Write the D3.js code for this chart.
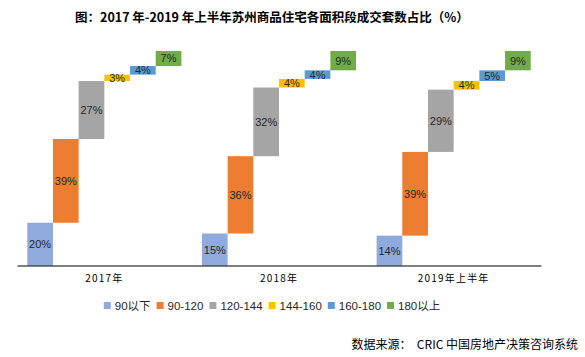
<!DOCTYPE html>
<html><head><meta charset="utf-8">
<script src="https://cdn.jsdelivr.net/npm/d3@7"></script>
<style>html,body{margin:0;padding:0;background:#fff;}svg{display:block;}</style>
</head><body>
<svg id="c" width="585" height="357"></svg>
<script>
const categories = ["2017年", "2018年", "2019年上半年"];
const series = ["90以下", "90-120", "120-144", "144-160", "160-180", "180以上"];
const values2017 = [20, 39, 27, 3, 4, 7];
const values2018 = [15, 36, 32, 4, 4, 9];
const values2019H1 = [14, 39, 29, 4, 5, 9];
const colors = ["#8FAADC", "#ED7D31", "#A5A5A5", "#FFC000", "#5B9BD5", "#70AD47"];
const title = "图：2017 年-2019 年上半年苏州商品住宅各面积段成交套数占比（%）";
const source = "数据来源：  CRIC 中国房地产决策咨询系统";

const allValues = [values2017, values2018, values2019H1];
const svg = d3.select("#c");
const font = "'Liberation Sans', Arial, sans-serif";
const cjk = "'Noto Sans CJK SC', 'Liberation Sans', sans-serif";
const mixed = "'Liberation Sans', 'Noto Sans CJK SC', sans-serif";

const x = d3.scaleBand().domain(categories).range([17, 541]).padding(0);
const xi = d3.scaleBand().domain(series).range([0, x.bandwidth()]).paddingInner(0).paddingOuter(0.4);
const y = d3.scaleLinear().domain([0, 100]).range([265.7, 51]);
const color = d3.scaleOrdinal().domain(series).range(colors);

// title
svg.append("text").attr("x", 75).attr("y", 22).attr("font-family", cjk)
  .attr("font-weight", "bold").attr("font-size", 12.5).attr("fill", "#000").text(title);

const data = [];
categories.forEach((c, ci) => {
  let cum = 0;
  series.forEach((s, si) => {
    const v = allValues[ci][si];
    data.push({c, s, v, y0: cum, y1: cum + v});
    cum += v;
  });
});

const g = svg.append("g");
g.selectAll("rect").data(data).join("rect")
  .attr("x", d => x(d.c) + xi(d.s))
  .attr("width", xi.bandwidth())
  .attr("y", d => y(d.y1))
  .attr("height", d => y(d.y0) - y(d.y1))
  .attr("fill", d => color(d.s));

g.selectAll("text.lbl").data(data).join("text").attr("class", "lbl")
  .attr("x", d => x(d.c) + xi(d.s) + xi.bandwidth() / 2)
  .attr("y", d => (y(d.y0) + y(d.y1)) / 2)
  .attr("dy", "0.36em")
  .attr("text-anchor", "middle").attr("font-family", font).attr("font-size", 11)
  .attr("fill", "#262626").text(d => d.v + "%");

// axis
const axis = svg.append("g").attr("transform", "translate(0,265.5)")
  .call(d3.axisBottom(x).tickSize(0).tickPadding(9));
axis.select(".domain").attr("stroke", "#000").attr("stroke-width", 1.2);
axis.selectAll("text").attr("font-family", cjk).attr("font-size", 10)
  .attr("letter-spacing", "1.2px").attr("fill", "#000");

// legend
const lg = svg.append("g");
let lx = 0;
series.forEach((s, i) => {
  lg.append("rect").attr("x", lx).attr("y", 302).attr("width", 7).attr("height", 7).attr("fill", colors[i]);
  const t = lg.append("text").attr("x", lx + 11).attr("y", 305.5).attr("dy", "0.36em")
    .attr("font-family", mixed).attr("font-size", 11.5).attr("fill", "#262626").text(s);
  lx = lx + 11 + t.node().getComputedTextLength() + (i < series.length - 1 ? 6 : 0);
});
lg.attr("transform", `translate(${272 - lx / 2},0)`);

// source
svg.append("text").attr("x", 578).attr("y", 345).attr("dy", "0.36em").attr("text-anchor", "end")
  .attr("font-family", cjk).attr("font-size", 12).attr("fill", "#000")
  .style("white-space", "pre").text(source);
</script>
</body></html>
